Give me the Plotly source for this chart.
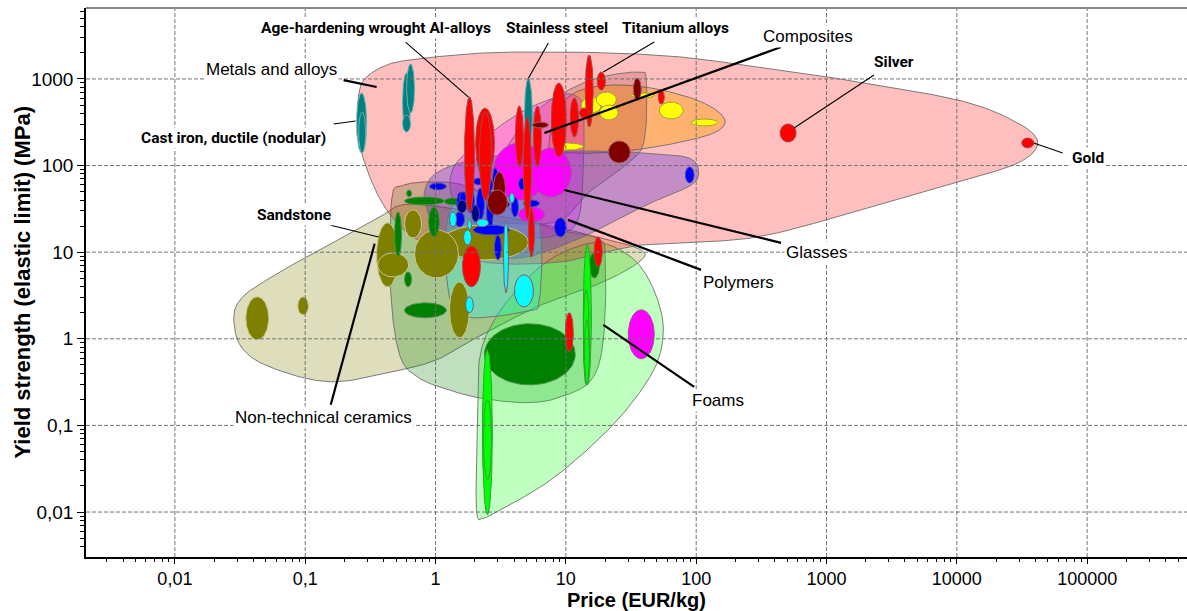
import numpy as np
import plotly.graph_objects as go

# ---------------------------------------------------------------
# Material bubbles: price range (EUR/kg) and yield strength range (MPa)
# ---------------------------------------------------------------
# Metals (red)
red_p_lo = [1.67, 2.03, 2.17, 4.10, 4.72, 5.64, 7.74, 10.8, 14.1, 17.4, 51.2, 12.7, 5.16, 1.61, 16.5, 440, 31500]
red_p_hi = [1.99, 2.83, 2.69, 4.72, 5.44, 6.49, 10.1, 12.5, 16.2, 20.1, 56.9, 15.1, 5.74, 2.21, 19.0, 584, 38900]
red_s_lo = [29, 72, 40, 96, 24, 96, 126, 214, 279, 745, 513, 354, 8.8, 4.0, 6.8, 187, 160]
red_s_hi = [620, 460, 415, 487, 364, 487, 897, 602, 1890, 1200, 745, 462, 33, 11.8, 15, 302, 208]

# Cast irons and steels (teal)
teal_p_lo = [0.248, 0.257, 0.558, 0.600, 0.558, 4.81]
teal_p_hi = [0.296, 0.291, 0.643, 0.690, 0.643, 5.54]
teal_s_lo = [140, 140, 244, 404, 244, 133]
teal_s_hi = [688, 415, 1170, 1490, 383, 1020]

# Composites (maroon)
mar_p_lo = [5.54, 32.9, 21.2, 2.78, 2.50]
mar_p_hi = [7.34, 37.9, 31.2, 3.44, 3.56]
mar_s_lo = [271, 571, 107, 35.1, 26.9]
mar_s_hi = [318, 1020, 192, 84.4, 52.3]

# Technical ceramics (yellow)
yel_p_lo = [13.1, 17.1, 18.1, 31.8, 52.1, 91.6, 8.02]
yel_p_hi = [18.7, 24.4, 25.2, 47.7, 79.5, 147, 13.6]
yel_s_lo = [404, 474, 336, 602, 345, 286, 151]
yel_s_hi = [618, 706, 500, 688, 542, 345, 182]

# Glasses (magenta)
mag_p_lo = [2.78, 5.44, 4.33]
mag_p_hi = [7.09, 11.0, 6.84]
mag_s_lo = [40.1, 43.4, 22.4]
mag_s_hi = [182, 160, 33.3]

# Thermoplastics (blue)
blu_p_lo = [0.90, 1.95, 2.25, 2.73, 1.45, 1.58, 1.73, 2.06, 2.46, 1.95, 2.83, 4.33, 4.72, 3.82, 8.16, 82.4, 1.53, 1.40]
blu_p_hi = [1.21, 2.37, 2.78, 3.04, 1.67, 1.79, 1.99, 2.37, 2.78, 3.69, 3.20, 4.98, 6.27, 4.33, 10.1, 96.5, 1.73, 1.67]
blu_s_lo = [52.3, 59.7, 49.6, 48.3, 28.4, 32.4, 28.4, 23.6, 18.1, 15.8, 8.15, 52.3, 33.3, 25.5, 15.0, 63.0, 37.0, 19.6]
blu_s_hi = [63.0, 71.9, 71.9, 93.8, 49.6, 49.6, 55.2, 55.2, 52.3, 20.6, 15.8, 71.9, 40.1, 43.4, 24.9, 96.4, 49.6, 29.2]

# Thermosets (navy)
nav_p_lo = [1.47, 3.32, 1.89]
nav_p_hi = [1.73, 3.69, 2.17]
nav_s_lo = [28.4, 33.3, 22.4]
nav_s_hi = [40.1, 38.0, 35.1]

# Elastomers (cyan)
cya_p_lo = [1.28, 1.64, 2.06, 3.32, 4.03, 1.70, 1.76, 3.69]
cya_p_hi = [1.45, 1.89, 2.55, 3.63, 5.64, 1.95, 1.89, 4.03]
cya_s_lo = [19.6, 12.1, 19.6, 3.40, 2.34, 2.00, 18.1, 37.0]
cya_s_hi = [29.2, 18.1, 24.2, 23.6, 5.47, 3.05, 23.6, 48.3]

# Non-technical ceramics (olive)
oli_p_lo = [1.11, 0.69, 0.578, 0.353, 0.36, 1.28, 0.035, 0.0877]
oli_p_hi = [5.16, 1.50, 0.781, 0.52, 0.621, 1.82, 0.0525, 0.106]
oli_s_lo = [8.15, 5.05, 14.6, 3.98, 5.19, 1.03, 0.974, 1.89]
oli_s_hi = [20.6, 18.1, 30.8, 21.8, 9.82, 4.54, 3.05, 3.05]

# Natural materials (dark green)
dgr_p_lo = [0.578, 0.600, 0.485, 0.884, 0.578, 0.578, 1.17, 2.37, 15.1]
dgr_p_hi = [1.17, 0.655, 0.549, 1.07, 0.655, 1.21, 1.58, 11.8, 18.1]
dgr_s_lo = [35.1, 43.4, 8.83, 15.0, 3.98, 1.75, 35.1, 0.294, 5.05]
dgr_s_hi = [43.4, 52.3, 29.2, 33.3, 5.93, 2.60, 42.3, 1.49, 9.82]

# Polymer foams (bright green)
bgr_p_lo = [2.29, 2.33, 13.6, 13.6, 13.9]
bgr_p_hi = [2.73, 2.69, 15.7, 15.1, 15.1]
bgr_s_lo = [0.00933, 0.0237, 0.294, 0.294, 0.294]
bgr_s_hi = [0.747, 0.198, 12.1, 3.67, 1.66]

# Metal foam and glass foam
mfoam_p = [9.91, 11.4]
mfoam_s = [0.708, 2.0]
gfoam_p = [30.1, 47.7]
gfoam_s = [0.588, 2.16]

# ---------------------------------------------------------------
# Family envelopes: outline control points (price, yield strength)
# ---------------------------------------------------------------
env_tan_p = [0.0283, 0.0326, 0.0507, 0.0991, 0.19, 0.366, 0.549, 1.11, 5.44, 18.7, 37.9, 36.6, 18.7, 6.49, 2.25, 1.11, 0.549, 0.16, 0.0554, 0.0326]
env_tan_s = [1.75, 2.97, 4.79, 8.6, 14.6, 24.9, 35.1, 33.3, 22.4, 14.6, 10.6, 7.73, 4.43, 2.47, 1.11, 0.604, 0.439, 0.319, 0.463, 0.787]

env_nat_p = [0.46, 0.549, 0.931, 1.89, 6.49, 17.1, 20.1, 19.4, 15.7, 9.24, 5.16, 2.37, 1.33, 0.741, 0.53, 0.452]
env_nat_s = [40.1, 58.2, 64.7, 55.2, 20.6, 14.6, 8.6, 0.974, 0.336, 0.214, 0.183, 0.203, 0.251, 0.355, 0.654, 3.67]

env_foam_p = [2.06, 2.10, 2.17, 2.69, 4.18, 7.09, 12.0, 18.7, 30.1, 41.4, 52.1, 55.9, 49.4, 33.5, 18.7, 7.74, 3.2, 2.37]
env_foam_s = [0.0107, 0.116, 0.573, 1.45, 3.67, 7.73, 11.5, 12.8, 9.31, 5.47, 2.47, 1.17, 0.501, 0.198, 0.0741, 0.0237, 0.0107, 0.00861]

env_ela_p = [1.26, 1.64, 3.2, 5.44, 6.49, 6.27, 5.25, 1.89, 1.33, 1.19]
env_ela_s = [26.9, 45.8, 55.2, 42.3, 13.9, 2.82, 2.1, 1.75, 2.47, 9.31]

env_met_p = [0.257, 0.281, 0.386, 0.621, 2.25, 7.34, 23.5, 76.7, 264, 1027, 10180, 29370, 41780, 29370, 10180, 1541, 264, 37.9, 9.24, 2.25, 0.781, 0.421, 0.281, 0.252]
env_met_s = [652, 971, 1371, 1652, 1990, 2043, 1990, 1790, 1409, 1052, 571, 310, 182, 107, 64.7, 28.4, 14.6, 12.1, 7.73, 7.73, 13.1, 30.8, 116, 336]

env_cer_p = [7.47, 8.46, 12.0, 22.3, 45.2, 91.6, 142, 167, 137, 76.7, 37.9, 18.7, 10.1, 7.74]
env_cer_s = [197, 415, 706, 851, 785, 602, 438, 318, 238, 187, 155, 140, 140, 151]

env_com_p = [3.04, 5.44, 10.5, 18.7, 35.9, 41.4, 40.0, 30.7, 15.7, 9.24, 4.56, 2.69, 2.25]
env_com_s = [116, 383, 745, 1052, 1200, 971, 197, 110, 52.3, 23.6, 21.2, 23.6, 45.8]

env_gla_p = [1.37, 2.25, 4.56, 8.46, 11.6, 13.6, 13.6, 12.7, 10.1, 5.44, 2.25, 1.37]
env_gla_s = [93.8, 197, 415, 618, 652, 438, 89, 26.9, 17.1, 14.6, 19.1, 40.1]

env_pol_p = [0.853, 1.11, 2.25, 6.49, 18.7, 51.2, 88.4, 104, 91.6, 41.4, 17.7, 8.46, 4.56, 2.06, 1.11, 0.838]
env_pol_s = [59.7, 89, 122, 143, 147, 136, 122, 89, 59.7, 35.1, 18.1, 11.2, 8.6, 9.06, 14.6, 35.1]

# Axis ticks
x_tick_vals = [0.01, 0.1, 1, 10, 100, 1000, 10000, 100000]
x_tick_text = ["0,01", "0,1", "1", "10", "100", "1000", "10000", "100000"]
y_tick_vals = [0.01, 0.1, 1, 10, 100, 1000]
y_tick_text = ["0,01", "0,1", "1", "10", "100", "1000"]

X_RANGE = [-2.682, 5.766]
Y_RANGE = [-2.519, 3.819]

fig = go.Figure()


def smooth_closed(px, py, n=24):
    """Closed Catmull-Rom curve through the control points (in log space)."""
    pts = np.c_[np.log10(px), np.log10(py)]
    m = len(pts)
    out = []
    for i in range(m):
        p0, p1, p2, p3 = pts[(i - 1) % m], pts[i], pts[(i + 1) % m], pts[(i + 2) % m]
        for t in np.linspace(0, 1, n, endpoint=False):
            t2, t3 = t * t, t * t * t
            out.append(0.5 * (2 * p1 + (-p0 + p2) * t + (2 * p0 - 5 * p1 + 4 * p2 - p3) * t2
                              + (-p0 + 3 * p1 - 3 * p2 + p3) * t3))
    out.append(out[0])
    out = np.array(out)
    return 10 ** out[:, 0], 10 ** out[:, 1]


def add_envelope(px, py, fill):
    xs, ys = smooth_closed(px, py)
    fig.add_trace(go.Scatter(x=xs, y=ys, mode="lines", fill="toself", fillcolor=fill,
                             line=dict(color="rgba(110,110,110,0.9)", width=1),
                             hoverinfo="skip"))


def add_bubbles(p_lo, p_hi, s_lo, s_hi, color, edge):
    t = np.linspace(0, 2 * np.pi, 90)
    for a, b, c, d in zip(p_lo, p_hi, s_lo, s_hi):
        lx0, lx1 = np.log10(a), np.log10(b)
        ly0, ly1 = np.log10(c), np.log10(d)
        cx, cy = (lx0 + lx1) / 2, (ly0 + ly1) / 2
        rx, ry = (lx1 - lx0) / 2, (ly1 - ly0) / 2
        xs = 10 ** (cx + rx * np.cos(t))
        ys = 10 ** (cy + ry * np.sin(t))
        fig.add_trace(go.Scatter(x=xs, y=ys, mode="lines", fill="toself", fillcolor=color,
                                 line=dict(color=edge, width=1), hoverinfo="skip"))


# Envelopes
add_envelope(env_tan_p, env_tan_s, "rgba(128,128,0,0.26)")
add_envelope(env_nat_p, env_nat_s, "rgba(0,128,0,0.25)")
add_envelope(env_foam_p, env_foam_s, "rgba(0,255,0,0.25)")
add_envelope(env_met_p, env_met_s, "rgba(255,0,0,0.25)")
add_envelope(env_cer_p, env_cer_s, "rgba(255,160,20,0.45)")
add_envelope(env_com_p, env_com_s, "rgba(128,0,0,0.18)")
add_envelope(env_gla_p, env_gla_s, "rgba(255,0,255,0.28)")
add_envelope(env_pol_p, env_pol_s, "rgba(80,40,220,0.33)")
add_envelope(env_ela_p, env_ela_s, "rgba(0,255,255,0.25)")

# Bubbles
add_bubbles(oli_p_lo, oli_p_hi, oli_s_lo, oli_s_hi, "#808000", "#C8C890")
add_bubbles(dgr_p_lo, dgr_p_hi, dgr_s_lo, dgr_s_hi, "#008000", "#4A8F4A")
add_bubbles(mag_p_lo, mag_p_hi, mag_s_lo, mag_s_hi, "#FF00FF", "#A050A0")
add_bubbles(blu_p_lo, blu_p_hi, blu_s_lo, blu_s_hi, "#0000FF", "#5050A0")
add_bubbles(nav_p_lo, nav_p_hi, nav_s_lo, nav_s_hi, "#000080", "#5050A0")
add_bubbles(cya_p_lo, cya_p_hi, cya_s_lo, cya_s_hi, "#00FFFF", "#905070")
add_bubbles(yel_p_lo, yel_p_hi, yel_s_lo, yel_s_hi, "#FFFF00", "#A0A040")
add_bubbles(teal_p_lo, teal_p_hi, teal_s_lo, teal_s_hi, "#008080", "#70B0B0")
add_bubbles(red_p_lo, red_p_hi, red_s_lo, red_s_hi, "#FF0000", "#A04848")
add_bubbles(mar_p_lo, mar_p_hi, mar_s_lo, mar_s_hi, "#800000", "#A06060")
add_bubbles(bgr_p_lo, bgr_p_hi, bgr_s_lo, bgr_s_hi, "#00FF00", "#30A030")
add_bubbles([mfoam_p[0]], [mfoam_p[1]], [mfoam_s[0]], [mfoam_s[1]], "#FF0000", "#A04848")
add_bubbles([gfoam_p[0]], [gfoam_p[1]], [gfoam_s[0]], [gfoam_s[1]], "#FF00FF", "#A050A0")

# Decade grid, drawn over the bubbles
gx, gy = [], []
for v in x_tick_vals:
    gx += [v, v, None]
    gy += [10 ** Y_RANGE[0], 10 ** Y_RANGE[1], None]
for v in y_tick_vals:
    gx += [10 ** X_RANGE[0], 10 ** X_RANGE[1], None]
    gy += [v, v, None]
fig.add_trace(go.Scatter(x=gx, y=gy, mode="lines",
                         line=dict(color="rgba(110,110,110,0.95)", width=1, dash="4px,2px"),
                         hoverinfo="skip", connectgaps=False))

# Labels: text, label position, leader start, leader end, bold, thick leader
labels = [
    ("Metals and alloys", 0.0554, 1300, (0.197, 971), (0.353, 807), False, True),
    ("Cast iron, ductile (nodular)", 0.0283, 208, (0.165, 302), (0.244, 327), True, False),
    ("Age-hardening wrought Al-alloys", 0.347, 3865, (0.589, 2665), (1.79, 618), True, False),
    ("Stainless steel", 8.61, 3865, (7.34, 2595), (5.16, 1020), True, False),
    ("Titanium alloys", 69.0, 3865, (47.7, 2665), (19.4, 1200), True, False),
    ("Composites", 721, 3126, (448, 2333), (6.84, 238), False, True),
    ("Silver", 3290, 1567, (2312, 1109), (564, 271), True, False),
    ("Gold", 100900, 122, (64900, 140), (38900, 182), True, False),
    ("Glasses", 831, 9.82, (9.74, 52.3), (448, 12.8), False, True),
    ("Polymers", 210, 4.43, (10.4, 23.6), (109, 6.25), False, True),
    ("Sandstone", 0.0816, 26.9, (0.154, 20.6), (0.366, 15.0), True, False),
    ("Non-technical ceramics", 0.139, 0.123, (0.157, 0.173), (0.341, 12.5), False, True),
    ("Foams", 147, 0.193, (19.4, 1.45), (96.5, 0.279), False, True),
]

annotations = []
for text, lx, ly, a, b, bold, thick in labels:
    fig.add_trace(go.Scatter(x=[a[0], b[0]], y=[a[1], b[1]], mode="lines",
                             line=dict(color="black", width=2.2 if thick else 1.1),
                             hoverinfo="skip"))
    if bold:
        font = dict(family="Roboto, Liberation Sans", size=15.5, color="black", weight="bold")
    else:
        font = dict(family="Liberation Sans, Arial", size=17, color="black")
    annotations.append(dict(x=np.log10(lx), y=np.log10(ly), xref="x", yref="y", text=text,
                            showarrow=False, font=font, bgcolor="white", borderpad=1,
                            xanchor="center", yanchor="middle"))

# Axis titles
annotations.append(dict(x=0.5, y=-(600 - 557) / 549, xref="paper", yref="paper",
                        text="Price (EUR/kg)", showarrow=False, xanchor="center", yanchor="middle",
                        font=dict(family="Liberation Sans, Arial", size=20, color="black", weight="bold")))
annotations.append(dict(x=(22 - 86) / 1101, y=0.5, xref="paper", yref="paper",
                        text="Yield strength (elastic limit) (MPa)", showarrow=False, textangle=-90,
                        xanchor="center", yanchor="middle",
                        font=dict(family="Liberation Sans, Arial", size=22, color="black", weight="bold")))

x_minor = [m * 10.0 ** k for k in range(-3, 6) for m in range(2, 10)]
y_minor = [m * 10.0 ** k for k in range(-3, 4) for m in range(2, 10)]

fig.update_layout(
    width=1187, height=611,
    margin=dict(l=86, r=0, t=8, b=54),
    plot_bgcolor="white", paper_bgcolor="white",
    showlegend=False, hovermode=False,
    annotations=annotations,
    shapes=[dict(type="line", xref="paper", yref="paper", x0=0, x1=1, y0=1, y1=1,
                 line=dict(color="#8a8a8a", width=2))],
    xaxis=dict(type="log", range=X_RANGE, showgrid=False, zeroline=False,
               showline=True, linecolor="black", linewidth=1.5,
               ticks="outside", ticklen=5, tickcolor="black", tickwidth=1.2,
               tickmode="array", tickvals=x_tick_vals, ticktext=x_tick_text,
               tickfont=dict(family="Liberation Sans, Arial", size=18, color="black"),
               minor=dict(tickmode="array", tickvals=x_minor, ticks="outside", ticklen=3,
                          tickcolor="black", showgrid=False)),
    yaxis=dict(type="log", range=Y_RANGE, showgrid=False, zeroline=False,
               showline=True, linecolor="black", linewidth=1.5,
               ticks="outside", ticklen=7, tickcolor="black", tickwidth=1.2,
               tickmode="array", tickvals=y_tick_vals, ticktext=y_tick_text,
               tickfont=dict(family="Liberation Sans, Arial", size=19, color="black"),
               minor=dict(tickmode="array", tickvals=y_minor, ticks="outside", ticklen=4,
                          tickcolor="black", showgrid=False)),
)

fig.write_html("out.html")
